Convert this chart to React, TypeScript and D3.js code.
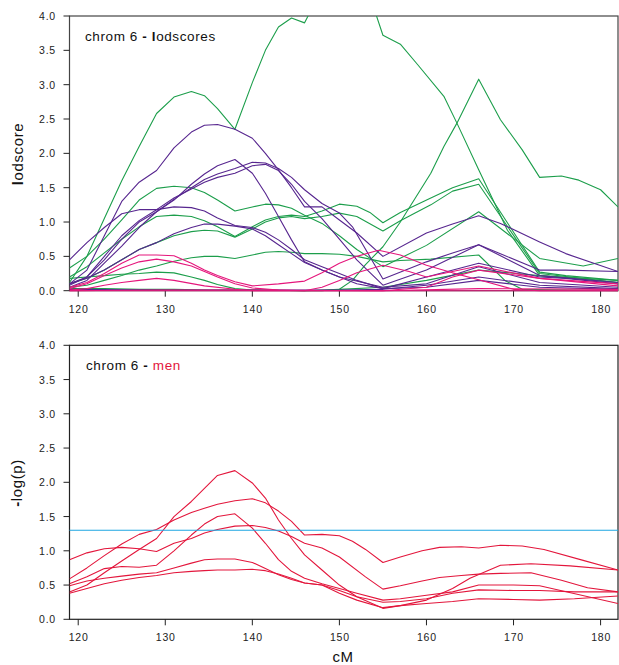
import * as d3 from 'd3';
import { useEffect, useRef } from 'react';

type Pt = [number, number];

const xTicks = [120, 130, 140, 150, 160, 170, 180];
const yTicks = [0, 0.5, 1, 1.5, 2, 2.5, 3, 3.5, 4];
const threshold = 1.3;

// top panel: lodscores, green family
const greenLod: Pt[][] = [
  [[119,0.12],[121,0.5],[123,1.05],[125,1.6],[127,2.1],[129,2.58],[131,2.82],[133,2.9],[134.5,2.84],[136,2.65],[138,2.35],[140,3.03],[141.5,3.5],[143,3.84],[144.5,3.97],[146,3.9],[148,4.4],[150,4.6],[152,4.5],[154,4.1],[155,3.72],[157,3.59],[159,3.29],[162,2.83],[163.5,2.44],[166,1.76],[169.3,0.88],[173,0.22],[178,0.18],[182,0.15]],
  [[119,0.03],[123,0.03],[127,0.02],[131,0.02],[135,0.01],[140,0.01],[146,0],[148,0],[150,0.02],[151.5,0.15],[153,0.38],[155,0.64],[157,1.0],[160.5,1.71],[162,2.1],[163.5,2.44],[166,3.08],[168.5,2.49],[171,2.05],[173,1.65],[175.5,1.67],[177.5,1.61],[180,1.47],[182,1.22]],
  [[119,0.33],[121,0.5],[123,0.75],[125,1.03],[127,1.32],[129,1.49],[131,1.52],[133,1.5],[134.5,1.43],[136,1.32],[138,1.16],[140,1.22],[141.5,1.26],[143,1.25],[144.5,1.2],[146,1.1],[148,0.98],[150,0.8],[152,0.6],[155,0.35],[160,0.66],[166,1.15],[173,0.47],[178,0.36],[182,0.47]],
  [[119,0.2],[121,0.35],[123,0.55],[125,0.75],[127,0.93],[129,1.08],[131,1.1],[133,1.08],[134.5,1.02],[136,0.93],[138,0.79],[140,0.93],[141.5,1.03],[143,1.08],[144.5,1.1],[146,1.08],[148,1.16],[150,1.26],[152,1.23],[153.5,1.14],[155,0.99],[157,1.14],[160.5,1.35],[163,1.5],[166,1.63],[169.5,0.95],[173,0.27],[176,0.22],[182,0.15]],
  [[119,0.1],[121,0.18],[123,0.3],[125,0.45],[127,0.6],[129,0.7],[131,0.8],[133,0.86],[134.5,0.88],[136,0.87],[138,0.78],[140,0.9],[141.5,1.0],[143,1.06],[144.5,1.08],[146,1.05],[148,1.08],[150,1.13],[152,1.08],[155,0.87],[157,1.02],[160.5,1.25],[163,1.45],[166,1.55],[173,0.25],[182,0.12]],
  [[119,0.05],[121,0.08],[123,0.15],[125,0.22],[127,0.3],[129,0.36],[131,0.43],[133,0.48],[134.5,0.5],[136,0.5],[138,0.47],[140,0.52],[141.5,0.56],[143,0.57],[144.5,0.56],[146,0.54],[148,0.54],[150,0.53],[152,0.5],[155,0.42],[157,0.44],[160.5,0.46],[166,0.52],[169,0.15],[171,0.02],[182,0]],
  [[119,0.18],[121,0.2],[123,0.22],[125,0.24],[127,0.25],[129,0.27],[131,0.26],[133,0.2],[134.5,0.15],[136,0.09],[138,0.03],[140,0.01],[146,0],[150,0.02],[155,0.05],[160,0.15],[166,0.3],[173,0.22],[182,0.12]],
];

// top panel: lodscores, purple family
const purpleLod: Pt[][] = [
  [[119,0.1],[121,0.3],[123,0.8],[125,1.3],[127,1.58],[129,1.75],[131,2.08],[133,2.31],[134.5,2.41],[136,2.42],[138,2.35],[140,2.22],[141.5,2.0],[143,1.76],[144.5,1.5],[146,1.22],[148,1.22],[150,1.03],[152,0.84],[155,0.5],[160,0.84],[163,0.97],[166,1.09],[168.5,0.98],[173,0.71],[176,0.54],[182,0.28]],
  [[119,0.45],[121,0.7],[123,0.92],[125,1.12],[127,1.18],[129,1.18],[131,1.22],[133,1.21],[134.5,1.16],[136,1.06],[138,0.95],[140,0.92],[141.5,0.85],[143,0.74],[144.5,0.6],[146,0.45],[148,0.35],[150,0.25],[152,0.15],[155,0.03],[160,0.2],[166,0.4],[173,0.2],[176,0.18],[182,0.1]],
  [[119,0.08],[121,0.2],[123,0.45],[125,0.75],[127,1.0],[129,1.15],[131,1.32],[133,1.55],[134.5,1.7],[136,1.82],[138,1.91],[140,1.71],[141.5,1.42],[143,1.08],[144.5,0.74],[146,0.42],[148,0.3],[150,0.2],[152,0.1],[155,0.03],[160,0.05],[166,0.15],[173,0.05],[182,0.02]],
  [[119,0.05],[121,0.15],[123,0.4],[125,0.65],[127,0.92],[129,1.15],[131,1.33],[133,1.5],[134.5,1.62],[136,1.7],[138,1.78],[140,1.87],[141.5,1.86],[143,1.78],[144.5,1.65],[146,1.47],[148,1.27],[150,1.13],[151.5,0.93],[155,0.17],[160,0.42],[163,0.55],[166,0.67],[173,0.3],[176,0.3],[182,0.28]],
  [[119,0.1],[121,0.2],[123,0.5],[125,0.8],[127,1.02],[129,1.18],[131,1.35],[133,1.48],[134.5,1.58],[136,1.65],[138,1.71],[140,1.82],[141.5,1.84],[143,1.75],[144.5,1.55],[146,1.3],[148,1.05],[150,0.75],[152,0.45],[155,0.08],[160,0.3],[166,0.67],[173,0.22],[182,0.12]],
  [[119,0.1],[121,0.18],[123,0.3],[125,0.45],[127,0.6],[129,0.7],[131,0.83],[133,0.92],[134.5,0.97],[136,0.97],[138,0.94],[140,0.9],[141.5,0.8],[143,0.67],[144.5,0.54],[146,0.41],[148,0.3],[150,0.2],[155,0.05],[160,0.1],[166,0.35],[173,0.12],[182,0.05]],
  [[119,0.02],[130,0.01],[140,0.01],[150,0.01],[155,0.02],[160,0.08],[166,0.2],[173,0.08],[182,0.03]],
];

// top panel: lodscores, pink family
const pinkLod: Pt[][] = [
  [[119,0.05],[121,0.12],[123,0.25],[125,0.4],[127,0.52],[129,0.52],[131,0.51],[133,0.4],[134.5,0.3],[136,0.22],[138,0.13],[140,0.07],[143,0.1],[146,0.14],[148,0.26],[150,0.4],[152,0.5],[154.5,0.59],[157,0.52],[160,0.37],[163,0.26],[166,0.16],[170,0.02],[173,0],[182,0]],
  [[119,0.03],[121,0.1],[123,0.22],[125,0.33],[127,0.42],[129,0.46],[131,0.42],[133,0.36],[134.5,0.28],[136,0.2],[138,0.1],[140,0.04],[143,0.01],[146,0],[148,0.05],[150,0.15],[152,0.26],[155,0.37],[158,0.28],[160,0.2],[163,0.28],[166,0.36],[173,0.18],[182,0.1]],
  [[119,0.01],[121,0.03],[123,0.08],[125,0.12],[127,0.15],[129,0.18],[131,0.15],[134.5,0.07],[138,0.02],[140,0],[155,0],[160,0.05],[163,0.2],[166,0.3],[173,0.18],[182,0.07]],
  [[119,0],[129,0.01],[140,0.01],[155,0],[166,0.03],[182,0.02]],
  [[119,0],[150,0],[182,0]],
];

// bottom panel: -log(p), men
const menLogP: Pt[][] = [
  [[119,0.87],[121,0.97],[123,1.03],[125,1.05],[127,1.03],[129,0.99],[131,1.11],[133,1.18],[134.5,1.26],[136,1.31],[138,1.36],[140,1.37],[141.5,1.34],[143,1.29],[144.5,1.21],[146,1.11],[148,1.04],[150,0.91],[153,0.62],[155,0.44],[157,0.49],[159.5,0.56],[161.5,0.61],[164,0.64],[166,0.66],[168.5,0.67],[172,0.68],[175.5,0.57],[178.5,0.46],[182,0.4]],
  [[119,0.59],[121,0.75],[123,0.93],[125,1.1],[127,1.24],[129,1.31],[131,1.45],[133,1.56],[134.5,1.62],[136,1.68],[138,1.73],[140,1.76],[141.5,1.7],[143,1.58],[144.5,1.43],[146,1.23],[148,1.24],[150,1.22],[151.5,1.14],[153,1.02],[155,0.83],[157,0.91],[159.5,1.0],[161.5,1.05],[164,1.06],[166,1.04],[168.5,1.08],[171,1.07],[173.5,1.02],[178,0.86],[182,0.72]],
  [[119,0.4],[121,0.5],[123,0.68],[125,0.85],[127,1.02],[129,1.18],[131,1.5],[133,1.72],[134.5,1.91],[136,2.1],[138,2.17],[140,1.99],[141.5,1.77],[143,1.45],[144.5,1.18],[146,0.94],[148,0.72],[150,0.5],[152,0.33],[155,0.16],[157,0.2],[160,0.28],[163,0.45],[165,0.6],[168.5,0.79],[172,0.81],[176.5,0.78],[182,0.72]],
  [[119,0.52],[121,0.62],[123,0.74],[125,0.77],[127,0.76],[129,0.79],[131,1.0],[133,1.23],[134.5,1.39],[136,1.5],[138,1.54],[140,1.33],[141.5,1.11],[143,0.87],[144.5,0.7],[146,0.6],[148,0.52],[150,0.45],[152,0.38],[155,0.28],[157,0.3],[160,0.35],[163,0.4],[166,0.5],[170,0.5],[173,0.49],[182,0.23]],
  [[119,0.49],[121,0.56],[123,0.6],[125,0.63],[127,0.66],[129,0.68],[131,0.75],[133,0.82],[134.5,0.87],[136,0.88],[138,0.88],[140,0.83],[141.5,0.74],[143,0.65],[144.5,0.58],[146,0.53],[148,0.5],[150,0.42],[152,0.33],[155,0.25],[157,0.26],[160,0.3],[163,0.38],[166,0.43],[170,0.42],[173,0.42],[177,0.4],[182,0.4]],
  [[119,0.38],[121,0.45],[123,0.52],[125,0.57],[127,0.61],[129,0.64],[131,0.68],[133,0.7],[134.5,0.71],[136,0.72],[138,0.72],[140,0.73],[141.5,0.71],[143,0.66],[144.5,0.6],[146,0.53],[148,0.5],[150,0.38],[152,0.28],[155,0.17],[157,0.2],[160,0.23],[163,0.26],[166,0.3],[170,0.29],[173,0.28],[177,0.3],[182,0.34]],
];

const FONT = "'Liberation Sans', Arial, sans-serif";

function App() {
  const chartRef = useRef<SVGSVGElement>(null);

  useEffect(() => {
    const root = d3.select(chartRef.current);
    root.selectAll('*').remove();

    const x = d3.scaleLinear().domain([119, 182]).range([69.5, 618]);

    const drawPanel = (
      id: string,
      top: number,
      bottom: number,
      groups: { color: string; series: Pt[][] }[],
      frameColor: string,
    ) => {
      const y = d3.scaleLinear().domain([0, 4]).range([bottom, top]);
      const g = root.append('g').attr('class', id);

      g.append('clipPath')
        .attr('id', `clip-${id}`)
        .append('rect')
        .attr('x', x.range()[0])
        .attr('y', top)
        .attr('width', x.range()[1] - x.range()[0])
        .attr('height', bottom - top + 2);

      // frame
      g.append('rect')
        .attr('x', x.range()[0])
        .attr('y', top)
        .attr('width', x.range()[1] - x.range()[0])
        .attr('height', bottom - top)
        .attr('fill', 'none')
        .attr('stroke', frameColor)
        .attr('stroke-width', 1.2);

      // y ticks
      const yt = g.append('g');
      yt.selectAll('line')
        .data(yTicks)
        .enter()
        .append('line')
        .attr('x1', x.range()[0] - 6)
        .attr('x2', x.range()[0])
        .attr('y1', (d) => y(d))
        .attr('y2', (d) => y(d))
        .attr('stroke', '#222')
        .attr('stroke-width', 1);
      yt.selectAll('text')
        .data(yTicks)
        .enter()
        .append('text')
        .attr('x', 56)
        .attr('y', (d) => y(d) + 4)
        .attr('text-anchor', 'end')
        .attr('font-family', FONT)
        .attr('font-size', 10.5)
        .attr('letter-spacing', 0.8)
        .attr('fill', '#222')
        .text((d) => d3.format('.1f')(d));

      // x ticks
      const xt = g.append('g');
      xt.selectAll('line')
        .data(xTicks)
        .enter()
        .append('line')
        .attr('x1', (d) => x(d))
        .attr('x2', (d) => x(d))
        .attr('y1', bottom)
        .attr('y2', bottom + 6)
        .attr('stroke', '#222')
        .attr('stroke-width', 1);
      xt.selectAll('text')
        .data(xTicks)
        .enter()
        .append('text')
        .attr('x', (d) => x(d) + 0.5)
        .attr('y', bottom + 22)
        .attr('text-anchor', 'middle')
        .attr('font-family', FONT)
        .attr('font-size', 10.5)
        .attr('letter-spacing', 0.8)
        .attr('fill', '#222')
        .text((d) => d);

      const line = d3
        .line<Pt>()
        .x((d) => x(d[0]))
        .y((d) => y(d[1]));

      const lines = g.append('g').attr('clip-path', `url(#clip-${id})`);
      groups.forEach((grp) => {
        lines
          .selectAll(null)
          .data(grp.series)
          .enter()
          .append('path')
          .attr('d', (d) => line(d))
          .attr('fill', 'none')
          .attr('stroke', grp.color)
          .attr('stroke-width', 1.1)
          .attr('stroke-linejoin', 'round');
      });

      return { g, y };
    };

    // top panel
    const topPanel = drawPanel(
      'lod',
      16,
      290.7,
      [
        { color: '#1c9e4b', series: greenLod },
        { color: '#57268f', series: purpleLod },
        { color: '#e5167c', series: pinkLod },
      ],
      '#444',
    );
    const t1 = topPanel.g
      .append('text')
      .attr('x', 85)
      .attr('y', 41)
      .attr('font-family', FONT)
      .attr('font-size', 13.5)
      .attr('letter-spacing', 0.6)
      .attr('fill', '#111');
    t1.append('tspan').text('chrom 6 ');
    t1.append('tspan').attr('font-weight', 'bold').text('-');
    t1.append('tspan').text(' ');
    t1.append('tspan').attr('font-weight', 'bold').text('l');
    t1.append('tspan').text('odscores');

    const yl1 = topPanel.g
      .append('text')
      .attr('transform', 'translate(22.5,154) rotate(-90)')
      .attr('text-anchor', 'middle')
      .attr('font-family', FONT)
      .attr('font-size', 15)
      .attr('letter-spacing', 0.6)
      .attr('fill', '#111');
    yl1.append('tspan').attr('font-weight', 'bold').text('l');
    yl1.append('tspan').text('odscore');

    // bottom panel
    const botPanel = drawPanel(
      'men',
      345.3,
      619.3,
      [{ color: '#e3163c', series: menLogP }],
      '#222',
    );
    botPanel.g
      .append('line')
      .attr('x1', x.range()[0])
      .attr('x2', x.range()[1])
      .attr('y1', botPanel.y(threshold))
      .attr('y2', botPanel.y(threshold))
      .attr('stroke', '#1ea6e2')
      .attr('stroke-width', 1.2);

    const t2 = botPanel.g
      .append('text')
      .attr('x', 86)
      .attr('y', 370)
      .attr('font-family', FONT)
      .attr('font-size', 13.5)
      .attr('letter-spacing', 0.6)
      .attr('fill', '#111');
    t2.append('tspan').text('chrom 6 ');
    t2.append('tspan').attr('font-weight', 'bold').text('-');
    t2.append('tspan').text(' ');
    t2.append('tspan').attr('fill', '#e3163c').text('men');

    const yl2 = botPanel.g
      .append('text')
      .attr('transform', 'translate(22,483) rotate(-90)')
      .attr('text-anchor', 'middle')
      .attr('font-family', FONT)
      .attr('font-size', 15)
      .attr('letter-spacing', 0.6)
      .attr('fill', '#111');
    yl2.append('tspan').attr('font-weight', 'bold').text('-');
    yl2.append('tspan').text('log(p)');

    root
      .append('text')
      .attr('x', 343)
      .attr('y', 662)
      .attr('text-anchor', 'middle')
      .attr('font-family', FONT)
      .attr('font-size', 15)
      .attr('letter-spacing', 0.6)
      .attr('fill', '#111')
      .text('cM');
  }, []);

  return (
    <svg
      ref={chartRef}
      width={619}
      height={665}
      style={{ position: 'absolute', left: 0, top: 0, background: '#fff' }}
    />
  );
}

export default App;
